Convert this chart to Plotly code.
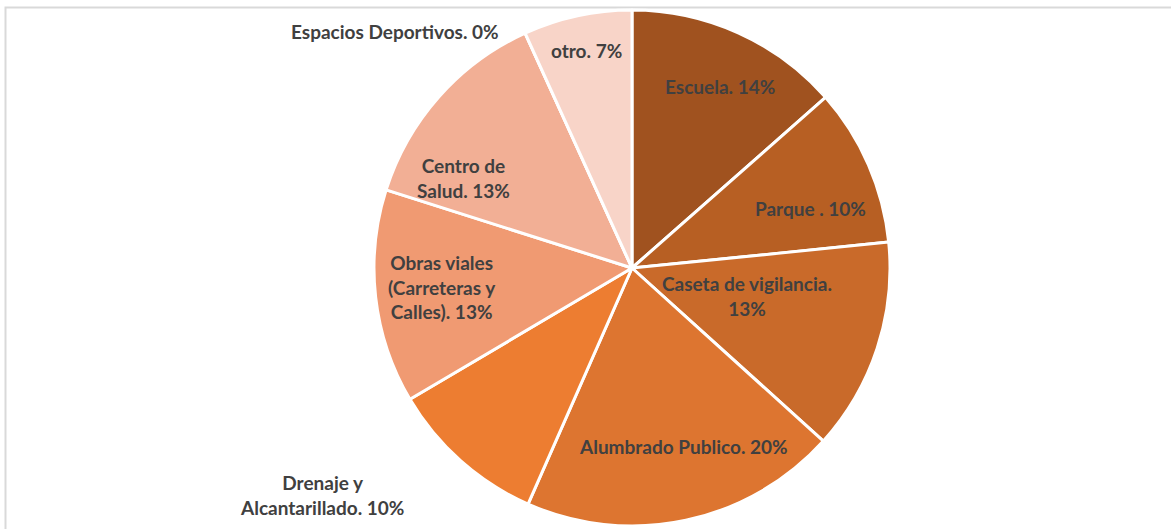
import math
import plotly.graph_objects as go

categories = ["Escuela", "Parque ", "Caseta de vigilancia", "Alumbrado Publico",
              "Drenaje y Alcantarillado", "Obras viales (Carreteras y Calles)",
              "Centro de Salud", "Espacios Deportivos", "otro"]
# shares (percent)
values = [13.5, 9.9, 13.3, 19.9, 9.9, 13.4, 13.3, 0, 6.8]
label_texts = ["Escuela. 14%", "Parque . 10%", "Caseta de vigilancia.<br>13%",
               "Alumbrado Publico. 20%", "Drenaje y<br>Alcantarillado. 10%",
               "Obras viales<br>(Carreteras y<br>Calles). 13%", "Centro de<br>Salud. 13%",
               "Espacios Deportivos. 0%", "otro. 7%"]
colors = ["#A0521F", "#B75F23", "#C96A2A", "#DD7530", "#ED7D31",
          "#F09A72", "#F2AF95", "#F2AF95", "#F8D4C8"]

W, H = 1171, 529
cx, cy, R = 632, 268, 258

# label placement style: (radius fraction, angle tweak in degrees)
label_style = [(0.78, 1.5), (0.73, 5.3), (0.46, -4.6), (0.72, -3.9), (1.49, 12.2),
               (0.74, 0.8), (0.74, -13.6), (1.0, 0), (0.86, 0.5)]

fig = go.Figure(go.Pie(
    labels=categories, values=values, sort=False, direction="clockwise", rotation=0,
    marker=dict(colors=colors, line=dict(color="white", width=3)),
    textinfo="none", hoverinfo="label+percent", showlegend=False,
    domain=dict(x=[(cx - R) / W, (cx + R) / W], y=[1 - (cy + R) / H, 1 - (cy - R) / H]),
))

total = sum(values)
cum = 0
for v, txt, (rf, tw) in zip(values, label_texts, label_style):
    mid = (cum + v / 2) / total * 360 + tw
    cum += v
    x = cx + rf * R * math.sin(math.radians(mid))
    y = cy - rf * R * math.cos(math.radians(mid))
    if txt.startswith("Espacios"):
        x, y = 395, 31
    fig.add_annotation(x=x / W, y=1 - y / H, xref="paper", yref="paper", text=txt,
                       showarrow=False, xanchor="center", yanchor="middle",
                       font=dict(family="Lato", size=19, color="#404040", weight="bold"),
                       align="center")

fig.add_shape(type="rect", xref="paper", yref="paper",
              x0=5.5 / W, x1=1.05, y0=-0.05, y1=1 - 7.5 / H,
              line=dict(color="#D9D9D9", width=2), fillcolor="rgba(0,0,0,0)", layer="below")

fig.update_layout(width=W, height=H, margin=dict(l=0, r=0, t=0, b=0),
                  paper_bgcolor="white", plot_bgcolor="white")
fig.write_html("out.html", config={"displayModeBar": False},
               post_script="document.body.style.margin='0';document.body.style.overflow='hidden';")
